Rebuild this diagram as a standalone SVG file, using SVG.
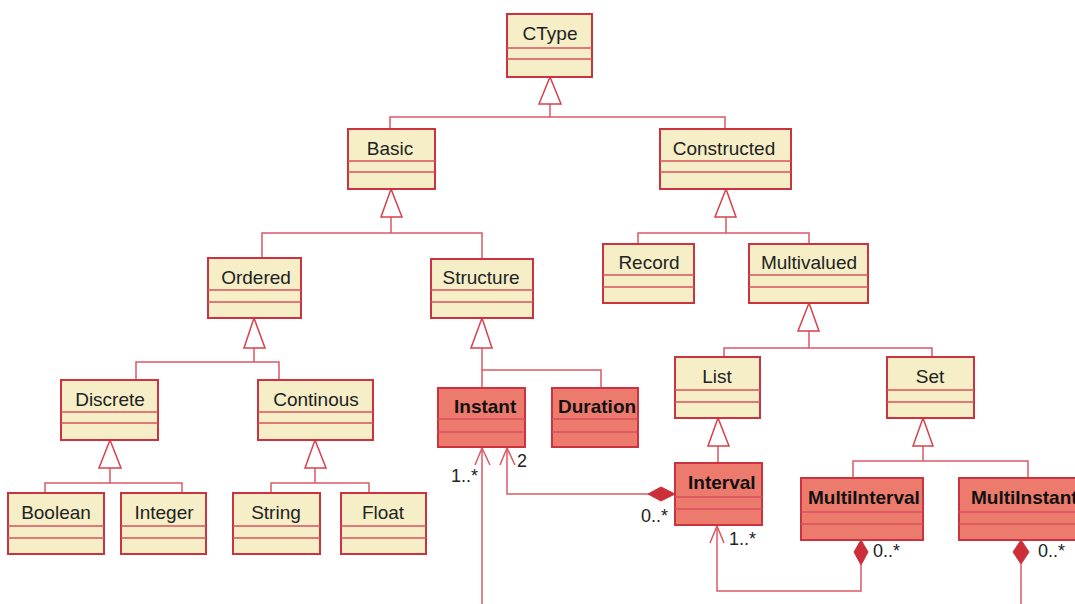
<svg xmlns="http://www.w3.org/2000/svg" width="1075" height="604" viewBox="0 0 1075 604">
<style>
.y{fill:#F5EEC7;stroke:#CC3340;stroke-width:2}
.r{fill:#EC7A6D;stroke:#CC3340;stroke-width:2}
.d{stroke:#D8505C;stroke-width:1.5;fill:none}
.t{font-family:"Liberation Sans",Arial,sans-serif;font-size:19px;fill:#222;text-anchor:middle}
.b{font-family:"Liberation Sans",Arial,sans-serif;font-size:19px;font-weight:bold;fill:#111}
.m{font-family:"Liberation Sans",Arial,sans-serif;font-size:18px;fill:#222}
.c{fill:none;stroke:#DB5864;stroke-width:1.5}
.g{fill:#fff;stroke:#D8404C;stroke-width:1.5}
.dm{fill:#CC2F3A;stroke:#CC2F3A;stroke-width:1}
</style>
<rect width="1075" height="604" fill="#fff"/>
<g id="connectors">
<!-- CType generalization -->
<polyline class="c" points="390,129 390,117 725,117 725,129"/>
<line class="c" x1="550" y1="104" x2="550" y2="117"/>
<polygon class="g" points="550,77 539,104 561,104"/>
<!-- Basic -->
<polyline class="c" points="262,258 262,233 482,233 482,259"/>
<line class="c" x1="391" y1="217" x2="391" y2="233"/>
<polygon class="g" points="391,189 381,217 402,217"/>
<!-- Constructed -->
<polyline class="c" points="638,244 638,233 809,233 809,244"/>
<line class="c" x1="726" y1="217" x2="726" y2="233"/>
<polygon class="g" points="726,189 715,217 736,217"/>
<!-- Ordered -->
<polyline class="c" points="136,380 136,362 279,362 279,380"/>
<line class="c" x1="254" y1="348" x2="254" y2="362"/>
<polygon class="g" points="254,318 244,348 265,348"/>
<!-- Structure -->
<polyline class="c" points="482,388 482,370 601,370 601,388"/>
<line class="c" x1="482" y1="348" x2="482" y2="370"/>
<polygon class="g" points="482,318 471,348 492,348"/>
<!-- Multivalued -->
<polyline class="c" points="724,357 724,348 932,348 932,357"/>
<line class="c" x1="809" y1="331" x2="809" y2="348"/>
<polygon class="g" points="809,303 798,331 819,331"/>
<!-- Discrete -->
<polyline class="c" points="45,493 45,483 182,483 182,493"/>
<line class="c" x1="110" y1="468" x2="110" y2="483"/>
<polygon class="g" points="110,440 99,468 121,468"/>
<!-- Continous -->
<polyline class="c" points="271,493 271,483 369,483 369,493"/>
<line class="c" x1="315" y1="468" x2="315" y2="483"/>
<polygon class="g" points="315,440 305,468 326,468"/>
<!-- List -->
<line class="c" x1="718" y1="446" x2="718" y2="463"/>
<polygon class="g" points="718,418 708,446 729,446"/>
<!-- Set -->
<polyline class="c" points="853,478 853,461 1028,461 1028,478"/>
<line class="c" x1="923" y1="446" x2="923" y2="461"/>
<polygon class="g" points="923,418 913,446 933,446"/>
<!-- Instant associations -->
<line class="c" x1="482" y1="447" x2="482" y2="604"/>
<polyline class="c" points="475,465 482,448 490,465"/>
<polyline class="c" points="507,447 507,494 650,494"/>
<polyline class="c" points="500,465 507,448 515,465"/>
<polygon class="dm" points="648,494 661,487 675,494 661,501"/>
<!-- Interval - MultiInterval -->
<polyline class="c" points="717,526 717,591 861,591 861,565"/>
<polyline class="c" points="710,543 717,526 724,543"/>
<polygon class="dm" points="861,540 868,552 861,565 854,552"/>
<!-- MultiInstant -->
<line class="c" x1="1021" y1="564" x2="1021" y2="604"/>
<polygon class="dm" points="1021,540 1029,552 1021,564 1013,552"/>
<!-- multiplicities -->
<text class="m" x="451" y="482">1..*</text>
<text class="m" x="517" y="467">2</text>
<text class="m" x="641" y="522">0..*</text>
<text class="m" x="729" y="545">1..*</text>
<text class="m" x="873" y="557">0..*</text>
<text class="m" x="1038" y="557">0..*</text>
</g>
<g id="CType"><rect class="y" x="507" y="14" width="85" height="63"/><line class="d" x1="507" y1="48" x2="592" y2="48"/><line class="d" x1="507" y1="59" x2="592" y2="59"/><text class="t" x="550" y="40">CType</text></g>
<g id="Basic"><rect class="y" x="348" y="129" width="87" height="60"/><line class="d" x1="348" y1="161" x2="435" y2="161"/><line class="d" x1="348" y1="172" x2="435" y2="172"/><text class="t" x="390" y="155">Basic</text></g>
<g id="Constructed"><rect class="y" x="660" y="129" width="131" height="60"/><line class="d" x1="660" y1="161" x2="791" y2="161"/><line class="d" x1="660" y1="172" x2="791" y2="172"/><text class="t" x="724" y="155">Constructed</text></g>
<g id="Ordered"><rect class="y" x="208" y="258" width="93" height="60"/><line class="d" x1="208" y1="290" x2="301" y2="290"/><line class="d" x1="208" y1="302" x2="301" y2="302"/><text class="t" x="256" y="284">Ordered</text></g>
<g id="Structure"><rect class="y" x="431" y="259" width="102" height="59"/><line class="d" x1="431" y1="290" x2="533" y2="290"/><line class="d" x1="431" y1="302" x2="533" y2="302"/><text class="t" x="481" y="284">Structure</text></g>
<g id="Record"><rect class="y" x="603" y="244" width="91" height="59"/><line class="d" x1="603" y1="275" x2="694" y2="275"/><line class="d" x1="603" y1="287" x2="694" y2="287"/><text class="t" x="649" y="269">Record</text></g>
<g id="Multivalued"><rect class="y" x="749" y="244" width="119" height="59"/><line class="d" x1="749" y1="275" x2="868" y2="275"/><line class="d" x1="749" y1="287" x2="868" y2="287"/><text class="t" x="809" y="269">Multivalued</text></g>
<g id="Discrete"><rect class="y" x="61" y="380" width="97" height="60"/><line class="d" x1="61" y1="412" x2="158" y2="412"/><line class="d" x1="61" y1="423" x2="158" y2="423"/><text class="t" x="110" y="406">Discrete</text></g>
<g id="Continous"><rect class="y" x="258" y="380" width="115" height="60"/><line class="d" x1="258" y1="412" x2="373" y2="412"/><line class="d" x1="258" y1="423" x2="373" y2="423"/><text class="t" x="316" y="406">Continous</text></g>
<g id="Instant"><rect class="r" x="438" y="388" width="87" height="59"/><line class="d" x1="438" y1="419" x2="525" y2="419"/><line class="d" x1="438" y1="432" x2="525" y2="432"/><text class="b" x="454" y="413">Instant</text></g>
<g id="Duration"><rect class="r" x="552" y="388" width="86" height="59"/><line class="d" x1="552" y1="419" x2="638" y2="419"/><line class="d" x1="552" y1="432" x2="638" y2="432"/><text class="b" x="558" y="413">Duration</text></g>
<g id="List"><rect class="y" x="675" y="357" width="85" height="61"/><line class="d" x1="675" y1="390" x2="760" y2="390"/><line class="d" x1="675" y1="402" x2="760" y2="402"/><text class="t" x="717" y="383">List</text></g>
<g id="Set"><rect class="y" x="887" y="357" width="87" height="61"/><line class="d" x1="887" y1="390" x2="974" y2="390"/><line class="d" x1="887" y1="402" x2="974" y2="402"/><text class="t" x="930" y="383">Set</text></g>
<g id="Boolean"><rect class="y" x="8" y="493" width="96" height="61"/><line class="d" x1="8" y1="526" x2="104" y2="526"/><line class="d" x1="8" y1="538" x2="104" y2="538"/><text class="t" x="56" y="519">Boolean</text></g>
<g id="Integer"><rect class="y" x="121" y="493" width="85" height="61"/><line class="d" x1="121" y1="526" x2="206" y2="526"/><line class="d" x1="121" y1="538" x2="206" y2="538"/><text class="t" x="164" y="519">Integer</text></g>
<g id="String"><rect class="y" x="233" y="493" width="87" height="61"/><line class="d" x1="233" y1="526" x2="320" y2="526"/><line class="d" x1="233" y1="538" x2="320" y2="538"/><text class="t" x="276" y="519">String</text></g>
<g id="Float"><rect class="y" x="341" y="493" width="85" height="61"/><line class="d" x1="341" y1="526" x2="426" y2="526"/><line class="d" x1="341" y1="538" x2="426" y2="538"/><text class="t" x="383" y="519">Float</text></g>
<g id="Interval"><rect class="r" x="675" y="463" width="87" height="62"/><line class="d" x1="675" y1="497" x2="762" y2="497"/><line class="d" x1="675" y1="509" x2="762" y2="509"/><text class="b" x="688" y="489">Interval</text></g>
<g id="MultiInterval"><rect class="r" x="801" y="478" width="122" height="62"/><line class="d" x1="801" y1="512" x2="923" y2="512"/><line class="d" x1="801" y1="524" x2="923" y2="524"/><text class="b" x="808" y="504">MultiInterval</text></g>
<g id="MultiInstant"><rect class="r" x="959" y="478" width="130" height="62"/><line class="d" x1="959" y1="512" x2="1089" y2="512"/><line class="d" x1="959" y1="524" x2="1089" y2="524"/><text class="b" x="971" y="504">MultiInstant</text></g>
</svg>
